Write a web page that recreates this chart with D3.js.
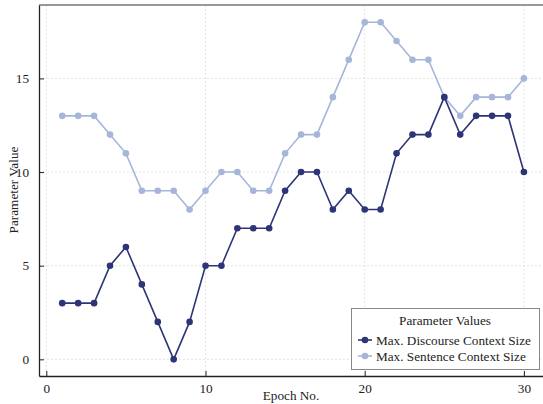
<!DOCTYPE html>
<html><head><meta charset="utf-8">
<script src="https://cdn.jsdelivr.net/npm/d3@7"></script>
<style>body{margin:0;background:#fff}svg{display:block}</style>
</head><body>
<svg id="c" width="543" height="404"></svg>
<script>
const epochs = d3.range(1, 31);
const discourse = [3,3,3,5,6,4,2,0,2,5,5,7,7,7,9,10,10,8,9,8,8,11,12,12,14,12,13,13,13,10];
const sentence = [13,13,13,12,11,9,9,9,8,9,10,10,9,9,11,12,12,14,16,18,18,17,16,16,14,13,14,14,14,15];
const seriesNames = ["Max. Discourse Context Size", "Max. Sentence Context Size"];
const xTicks = [0,10,20,30];
const yTicks = [0,5,10,15];
const colors = ["#2e3577", "#a5b6d9"];

const svg = d3.select("#c");
const L = 39, R = 543, T = 5, B = 376;
const x = d3.scaleLinear().domain([-0.46, 31.2]).range([L, R]);
const y = d3.scaleLinear().domain([-0.89, 18.92]).range([B, T]);

// pick a font size so the legend entry width matches the reference (~156px)
const probe = svg.append("text").attr("font-size", 14).text(seriesNames[0]);
let FS = 14 * 155 / probe.node().getComputedTextLength();
FS = Math.max(12, Math.min(16, FS));
probe.remove();

// grid
const g = svg.append("g");
g.selectAll(".gx").data(xTicks).join("line")
  .attr("x1", d=>x(d)).attr("x2", d=>x(d)).attr("y1", T).attr("y2", B)
  .attr("stroke", "#dcdcdc").attr("stroke-width", 0.8).attr("stroke-dasharray", "2,2");
g.selectAll(".gy").data(yTicks).join("line")
  .attr("x1", L).attr("x2", R).attr("y1", d=>y(d)).attr("y2", d=>y(d))
  .attr("stroke", "#dcdcdc").attr("stroke-width", 0.8).attr("stroke-dasharray", "2,2");

// top border
svg.append("line").attr("x1", L).attr("x2", R).attr("y1", T).attr("y2", T)
  .attr("stroke", "#777").attr("stroke-width", 1.5);

// axes
const xa = svg.append("g").attr("transform", `translate(0,${B})`)
  .call(d3.axisBottom(x).tickValues(xTicks).tickSizeInner(-5).tickSizeOuter(0).tickPadding(9));
const ya = svg.append("g").attr("transform", `translate(${L},0)`)
  .call(d3.axisLeft(y).tickValues(yTicks).tickSizeInner(-5).tickSizeOuter(0).tickPadding(10));
[xa, ya].forEach(a => {
  a.attr("font-family", null).attr("font-size", null);
  a.select(".domain").attr("stroke", "#222").attr("stroke-width", 1.3);
  a.selectAll(".tick line").attr("stroke", "#222").attr("stroke-width", 1);
  a.selectAll("text").attr("font-size", FS).attr("fill", "#222");
});
xa.selectAll("text").attr("dy", "0.6em");

function txt(sel) { return sel.attr("font-size", FS).attr("fill", "#222"); }

txt(svg.append("text").attr("x", 291).attr("y", 400).attr("text-anchor", "middle")).text("Epoch No.");
txt(svg.append("text").attr("transform", "translate(18,190) rotate(-90)").attr("text-anchor", "middle")).text("Parameter Value");

// series
const data = [sentence, discourse];
const cols = [colors[1], colors[0]];
const line = d3.line().x((d,i)=>x(epochs[i])).y(d=>y(d));
data.forEach((vals, k) => {
  svg.append("path").datum(vals).attr("d", line).attr("fill", "none")
    .attr("stroke", cols[k]).attr("stroke-width", 1.6);
  svg.append("g").selectAll("circle").data(vals).join("circle")
    .attr("cx", (d,i)=>x(epochs[i])).attr("cy", d=>y(d)).attr("r", 3.3).attr("fill", cols[k]);
});

// legend
const lg = svg.append("g");
lg.append("rect").attr("x", 351.5).attr("y", 308.5).attr("width", 188).attr("height", 61)
  .attr("fill", "#fff").attr("stroke", "#888").attr("stroke-width", 1);
txt(lg.append("text").attr("x", 445).attr("y", 325).attr("text-anchor", "middle")).text("Parameter Values");
seriesNames.forEach((n, i) => {
  const yy = 340 + i * 16;
  lg.append("line").attr("x1", 358).attr("x2", 372).attr("y1", yy).attr("y2", yy)
    .attr("stroke", colors[i]).attr("stroke-width", 1.6);
  lg.append("circle").attr("cx", 365).attr("cy", yy).attr("r", 3.3).attr("fill", colors[i]);
  txt(lg.append("text").attr("x", 376).attr("y", yy + 4.5)).text(n);
});
</script>
</body></html>
